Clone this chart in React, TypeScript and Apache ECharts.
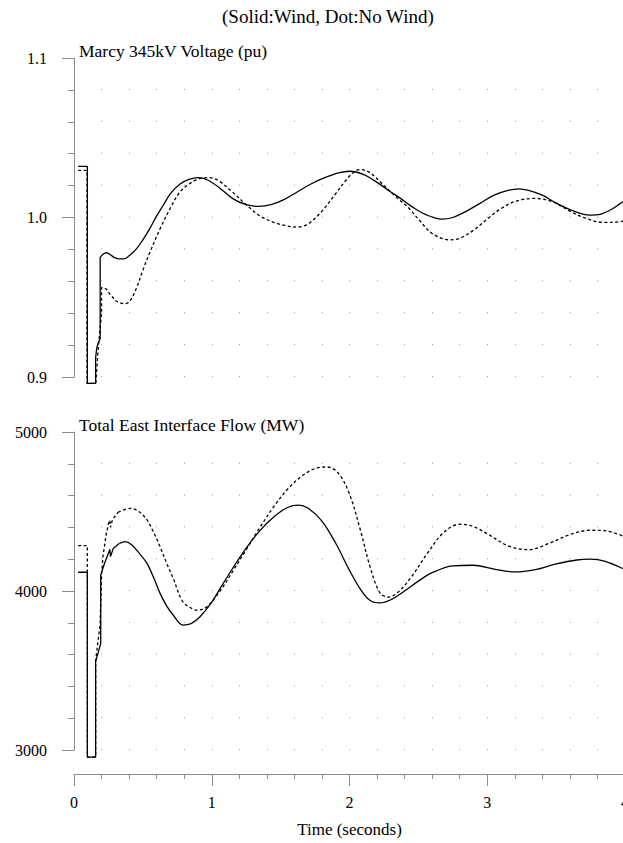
import React, { useEffect, useRef } from "react";
import * as echarts from "echarts";

// ---- Data ----
// Top panel: Marcy 345kV Voltage (pu)
const voltWindT = [0.03, 0.097, 0.097, 0.157, 0.157, 0.165, 0.178, 0.19, 0.19, 0.21, 0.235, 0.26, 0.29, 0.32, 0.36, 0.4, 0.45, 0.5, 0.55, 0.6, 0.65, 0.7, 0.77, 0.84, 0.9, 0.97, 1.05, 1.15, 1.25, 1.34, 1.43, 1.52, 1.62, 1.72, 1.82, 1.92, 2.0, 2.1, 2.2, 2.3, 2.37, 2.45, 2.55, 2.67, 2.75, 2.85, 2.95, 3.05, 3.15, 3.23, 3.3, 3.4, 3.5, 3.6, 3.7, 3.75, 3.82, 3.9, 3.97, 4.0];
const voltWind = [1.032, 1.032, 0.896, 0.896, 0.912, 0.918, 0.922, 0.924, 0.975, 0.977, 0.978, 0.977, 0.975, 0.974, 0.974, 0.976, 0.98, 0.986, 0.993, 1.001, 1.008, 1.015, 1.021, 1.024, 1.025, 1.0235, 1.019, 1.012, 1.008, 1.007, 1.008, 1.011, 1.016, 1.021, 1.025, 1.028, 1.029, 1.027, 1.022, 1.016, 1.012, 1.007, 1.002, 0.999, 1.0, 1.004, 1.009, 1.014, 1.017, 1.018, 1.017, 1.014, 1.009, 1.005, 1.002, 1.0015, 1.002, 1.005, 1.009, 1.0105];

const voltNoWindT = [0.03, 0.095, 0.095, 0.158, 0.175, 0.2, 0.2, 0.215, 0.237, 0.26, 0.3, 0.36, 0.4, 0.45, 0.5, 0.55, 0.625, 0.7, 0.76, 0.82, 0.9, 0.98, 1.05, 1.15, 1.25, 1.35, 1.45, 1.53, 1.62, 1.7, 1.8, 1.9, 1.98, 2.04, 2.08, 2.15, 2.25, 2.35, 2.43, 2.5, 2.6, 2.73, 2.8, 2.9, 3.0, 3.09, 3.2, 3.34, 3.47, 3.6, 3.7, 3.84, 3.92, 4.0];
const voltNoWind = [1.0295, 1.0295, 0.896, 0.896, 0.917, 0.94, 0.956, 0.956, 0.955, 0.952, 0.948, 0.946, 0.947, 0.955, 0.967, 0.978, 0.993, 1.006, 1.015, 1.02, 1.024, 1.025, 1.023, 1.016, 1.008, 1.001, 0.997, 0.995, 0.994, 0.996, 1.004, 1.015, 1.024, 1.029, 1.03, 1.028, 1.02, 1.012, 1.006, 0.999, 0.99, 0.986, 0.987, 0.992, 0.999, 1.005, 1.01, 1.012, 1.01, 1.004, 1.0, 0.997, 0.997, 0.998];

// Bottom panel: Total East Interface Flow (MW)
const flowWindT = [0.03, 0.097, 0.097, 0.157, 0.157, 0.194, 0.194, 0.22, 0.25, 0.26, 0.265, 0.285, 0.33, 0.37, 0.42, 0.48, 0.53, 0.58, 0.625, 0.67, 0.72, 0.79, 0.85, 0.915, 1.0, 1.06, 1.15, 1.25, 1.35, 1.45, 1.55, 1.63, 1.7, 1.8, 1.9, 2.0, 2.08, 2.15, 2.22, 2.3, 2.4, 2.5, 2.6, 2.75, 2.9, 3.05, 3.2, 3.35, 3.5, 3.65, 3.75, 3.85, 4.0];
const flowWind = [4118, 4118, 2955, 2955, 3556, 3671, 4101, 4170, 4237, 4262, 4216, 4268, 4300, 4310, 4290, 4230, 4174, 4080, 3985, 3910, 3849, 3786, 3795, 3838, 3930, 4015, 4140, 4270, 4380, 4465, 4525, 4540, 4520, 4440, 4300, 4130, 4010, 3940, 3925, 3945, 4000, 4062, 4115, 4158, 4162, 4138, 4120, 4135, 4170, 4195, 4200, 4188, 4135];

const flowNoWindT = [0.03, 0.097, 0.097, 0.157, 0.157, 0.19, 0.2, 0.21, 0.235, 0.25, 0.26, 0.265, 0.28, 0.32, 0.41, 0.47, 0.53, 0.58, 0.625, 0.67, 0.72, 0.79, 0.866, 0.89, 0.96, 1.06, 1.15, 1.25, 1.35, 1.45, 1.55, 1.65, 1.75, 1.84, 1.92, 2.0, 2.08, 2.15, 2.22, 2.28, 2.35, 2.45, 2.56, 2.68, 2.8, 2.9, 3.0, 3.15, 3.3, 3.45, 3.6, 3.75, 3.85, 4.0];
const flowNoWind = [4285, 4285, 2955, 2955, 3560, 3797, 4101, 4216, 4363, 4420, 4445, 4400, 4450, 4495, 4520, 4500, 4447, 4365, 4279, 4180, 4080, 3933, 3885, 3880, 3897, 4000, 4120, 4260, 4400, 4530, 4640, 4720, 4770, 4780, 4740, 4610, 4380, 4150, 3990, 3962, 3990, 4090, 4230, 4365, 4420, 4405, 4360, 4285, 4260, 4300, 4355, 4382, 4380, 4340];

// time after which each trace is drawn as a smooth curve
const smoothFrom = [0.32, 0.3, 0.33, 0.32];

const timeTicks = { min: 0, max: 4, interval: 1 };
const voltTicks = { min: 0.9, max: 1.1, interval: 0.1 };
const flowTicks = { min: 3000, max: 5000, interval: 1000 };

const titleMain = "(Solid:Wind, Dot:No Wind)";
const titleTop = "Marcy 345kV Voltage (pu)";
const titleBottom = "Total East Interface Flow (MW)";
const xName = "Time (seconds)";

const zip = (t: number[], v: number[]) => t.map((x, i) => [x, v[i]]);

const FONT = "Liberation Serif";
const AXIS_GREY = "#8c8c8c";
const DOT_GREY = "#9a9a9a";

export default function App() {
  const ref = useRef<HTMLDivElement>(null);
  useEffect(() => {
    if (!ref.current) return;
    const chart = echarts.init(ref.current, undefined, { renderer: "svg" });
    const gridH = [319, 318];
    const xAxisCommon = (gi: number, visible: boolean) => ({
      type: "value",
      gridIndex: gi,
      min: timeTicks.min,
      max: timeTicks.max,
      interval: timeTicks.interval,
      axisLine: { show: visible, lineStyle: { color: AXIS_GREY, width: 1 } },
      axisTick: { show: visible, length: 12, lineStyle: { color: AXIS_GREY } },
      minorTick: { show: visible, splitNumber: 5, length: 5, lineStyle: { color: AXIS_GREY } },
      axisLabel: {
        show: visible,
        margin: 20,
        color: "#000",
        fontFamily: FONT,
        fontSize: 16,
        showMinLabel: true,
        showMaxLabel: true,
      },
      splitLine: {
        show: true,
        lineStyle: { color: DOT_GREY, width: 1, type: [1, gridH[gi] / 10 - 1], dashOffset: 0.5 },
      },
      minorSplitLine: {
        show: true,
        lineStyle: { color: DOT_GREY, width: 1, type: [1, gridH[gi] / 10 - 1], dashOffset: 0.5 },
      },
      offset: visible ? 24 : 0,
      name: visible ? xName : "",
      nameLocation: "middle",
      nameGap: 47,
      nameTextStyle: { color: "#000", fontFamily: FONT, fontSize: 17 },
    });
    const yAxisCommon = (gi: number, ticks: any, fmt: (v: number) => string) => ({
      type: "value",
      gridIndex: gi,
      min: ticks.min,
      max: ticks.max,
      interval: ticks.interval,
      axisLine: { show: true, lineStyle: { color: AXIS_GREY, width: 1 } },
      axisTick: { show: true, length: 12, lineStyle: { color: AXIS_GREY } },
      minorTick: { show: true, splitNumber: 5, length: 6, lineStyle: { color: AXIS_GREY } },
      axisLabel: {
        margin: 27,
        color: "#000",
        fontFamily: FONT,
        fontSize: 16,
        formatter: fmt,
      },
      splitLine: { show: false },
    });
    const lineSeries = (name: string, xi: number, data: number[][], dashed: boolean, smooth: number) => ({
      type: "line",
      name,
      xAxisIndex: xi,
      yAxisIndex: xi,
      data,
      showSymbol: false,
      symbol: "none",
      clip: false,
      smooth,
      lineStyle: { color: "#000", width: 1.3, type: dashed ? [3, 2.5] : "solid" },
      z: dashed ? 3 : 4,
    });
    const traces = [
      { name: "Wind", xi: 0, pts: zip(voltWindT, voltWind), dashed: false },
      { name: "No Wind", xi: 0, pts: zip(voltNoWindT, voltNoWind), dashed: true },
      { name: "Wind", xi: 1, pts: zip(flowWindT, flowWind), dashed: false },
      { name: "No Wind", xi: 1, pts: zip(flowNoWindT, flowNoWind), dashed: true },
    ];
    const series: any[] = [];
    traces.forEach((tr, k) => {
      const s = smoothFrom[k];
      series.push(lineSeries(tr.name, tr.xi, tr.pts.filter((p) => p[0] <= s), tr.dashed, 0));
      series.push(lineSeries(tr.name, tr.xi, tr.pts.filter((p) => p[0] >= s), tr.dashed, 0.35));
    });
    chart.setOption({
      animation: false,
      backgroundColor: "#fff",
      textStyle: { fontFamily: FONT },
      grid: [
        { left: 74, top: 58, width: 551, height: gridH[0], outerBoundsMode: "none", containLabel: false },
        { left: 74, top: 432, width: 551, height: gridH[1], outerBoundsMode: "none", containLabel: false },
      ],
      xAxis: [xAxisCommon(0, false), xAxisCommon(1, true)],
      yAxis: [
        yAxisCommon(0, voltTicks, (v: number) => v.toFixed(1)),
        yAxisCommon(1, flowTicks, (v: number) => String(Math.round(v))),
      ],
      series,
      graphic: [
        {
          type: "text",
          x: 222,
          y: 16,
          style: { text: titleMain, fontFamily: FONT, fontSize: 19, fill: "#000", verticalAlign: "middle", align: "left" },
        },
        {
          type: "text",
          x: 79,
          y: 51,
          style: { text: titleTop, fontFamily: FONT, fontSize: 17.5, fill: "#000", verticalAlign: "middle", align: "left" },
        },
        {
          type: "text",
          x: 79,
          y: 425,
          style: { text: titleBottom, fontFamily: FONT, fontSize: 17.5, fill: "#000", verticalAlign: "middle", align: "left" },
        },
      ],
    });
    return () => chart.dispose();
  }, []);
  return (
    <div
      ref={ref}
      style={{ position: "fixed", left: 0, top: 0, width: 623, height: 843, overflow: "hidden", background: "#fff" }}
    />
  );
}
